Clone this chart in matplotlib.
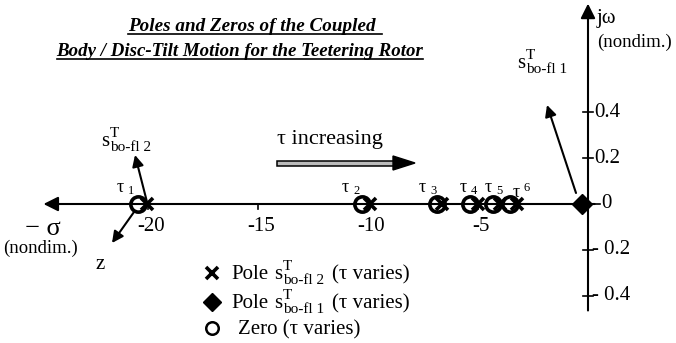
import matplotlib
matplotlib.use('Agg')
from matplotlib import pyplot as plt
from matplotlib.patches import Rectangle, Polygon
import numpy as np

# root locations (nondimensional real part), one per tau value
zeros_sigma = [-20.45, -10.27, -6.86, -5.36, -4.32, -3.55]
pole2_sigma = [-20.05, -9.90, -6.64, -5.00, -4.00, -3.23]
pole1_sigma = [-0.27]
tau_names = ['1', '2', '3', '4', '5', '6']

xticks = [-20, -15, -10, -5]
yticks = [0.4, 0.2, 0.0, -0.2, -0.4]
ytick_labels = ['0.4', '0.2', '0', '- 0.2', '- 0.4']

W, H = 676, 343
serif = 'Liberation Serif'
plt.rcParams['font.family'] = serif

fig = plt.figure(figsize=(W / 100, H / 100), dpi=100)
ax = fig.add_axes([0, 0, 1, 1])
# 22 px per sigma unit, 229 px per j-omega unit, origin at (588, 204)
ax.set_xlim(-588 / 22, (W - 588) / 22)
ax.set_ylim(-(H - 204) / 229, 204 / 229)
ax.axis('off')


def fpos(x, y):
    return x / W, 1 - y / H


def ftext(x, y, s, **kw):
    kw.setdefault('family', serif)
    return fig.text(x / W, 1 - y / H, s, **kw)


def slabel(x, y, sub, size=15, subsize=11):
    # s with superscript T and subscript text
    ftext(x, y, 's', fontsize=size, ha='left', va='baseline')
    ftext(x + 9, y - 9, 'T', fontsize=subsize, ha='left', va='baseline')
    ftext(x + 9, y + 5, sub, fontsize=subsize, ha='left', va='baseline')


# axes with arrow heads
ax.annotate('', xy=(-24.75, 0), xytext=(0.3, 0),
            arrowprops=dict(arrowstyle='-|>', mutation_scale=22, lw=1.5, color='k',
                            shrinkA=0, shrinkB=0))
ax.annotate('', xy=(0, 0.875), xytext=(0, -0.465),
            arrowprops=dict(arrowstyle='-|>', mutation_scale=22, lw=1.5, color='k',
                            shrinkA=0, shrinkB=0))

# x ticks below the real axis
for t in xticks:
    ax.plot([t, t], [0, -0.02], color='k', lw=1.2)
    ax.text(t + 0.15, -0.1, str(t), fontsize=15, ha='center', va='center')

# y ticks crossing the imaginary axis
for t, lab in zip(yticks, ytick_labels):
    if t != 0:
        ax.plot([-0.22, 0.22], [t, t], color='k', lw=1.2)
        ax.text(0.28 if t > 0 else 0.18, t, lab, fontsize=15, ha='left', va='center')
    else:
        ax.text(0.62, t, lab, fontsize=15, ha='left', va='center')
ax.plot([0, 0.55], [0, 0], color='k', lw=1.2)

# roots
ax.plot(zeros_sigma, np.zeros(len(zeros_sigma)), 'o', ms=11, mfc='none', mec='k', mew=2.6)
ax.plot(pole2_sigma, np.zeros(len(pole2_sigma)), 'x', ms=9, mec='k', mew=2.6)
ax.plot(pole1_sigma, np.zeros(len(pole1_sigma)), 'D', ms=10, color='k')

# tau labels
tau_offsets = [(-18, 0), (-17, 0), (-15, 0), (-7, 0), (-5, 0), (6, 5)]
for z, name, (dx, dy) in zip(zeros_sigma, tau_names, tau_offsets):
    x0 = 588 + 22 * z + dx
    y0 = 192 + dy
    ftext(x0, y0, '\u03c4', fontsize=13, ha='center', va='baseline')
    ftext(x0 + 8, y0 + (2 if name != '6' else -6), name, fontsize=9, ha='left', va='baseline')

# root direction arrows
arr = dict(arrowstyle='-|>', mutation_scale=17, lw=1.5, color='k', shrinkA=0, shrinkB=0)
ax.annotate('', xy=((135 - 588) / 22, (204 - 155) / 229),
            xytext=((147 - 588) / 22, (204 - 202) / 229), arrowprops=arr)
ax.annotate('', xy=((112 - 588) / 22, (204 - 243) / 229),
            xytext=((134 - 588) / 22, (204 - 212) / 229), arrowprops=arr)
ax.annotate('', xy=((547 - 588) / 22, (204 - 105) / 229),
            xytext=((576 - 588) / 22, (204 - 193) / 229), arrowprops=arr)

slabel(101, 146, 'bo-fl 2')
slabel(517, 68, 'bo-fl 1')
ftext(100, 269, 'z', fontsize=15, ha='center', va='baseline')

# axis names
ftext(43, 235, '\u2212 \u03c3', fontsize=19, ha='center', va='baseline')
ftext(40, 253, '(nondim.)', fontsize=13.5, ha='center', va='baseline')
ftext(597, 23, 'j\u03c9', fontsize=15, ha='left', va='baseline')
ftext(597, 47, '(nondim.)', fontsize=13.5, ha='left', va='baseline')

# "tau increasing" and its hollow arrow
ftext(277, 144, '\u03c4 increasing', fontsize=16, ha='left', va='baseline')
x0, y0 = fpos(277, 165.5)
x1, y1 = fpos(395, 160.5)
fig.patches.append(Rectangle((x0, y0), x1 - x0, y1 - y0, transform=fig.transFigure,
                             facecolor='#bbbbbb', edgecolor='k', lw=1.1))
fig.patches.append(Polygon([fpos(393, 156), fpos(415, 163), fpos(393, 170)], closed=True,
                           transform=fig.transFigure, facecolor='k', edgecolor='k'))

# title with underlines
t1 = ftext(252, 31, 'Poles and Zeros of the Coupled', fontsize=13.8,
           style='italic', weight='bold', ha='center', va='baseline')
t2 = ftext(240, 56, 'Body / Disc-Tilt Motion for the Teetering Rotor', fontsize=13.6,
           style='italic', weight='bold', ha='center', va='baseline')
renderer = fig.canvas.get_renderer()
for t, yb, extra in ((t1, 34, 6), (t2, 59, 0)):
    bb = t.get_window_extent(renderer)
    fig.add_artist(plt.Line2D([bb.x0 / W, (bb.x1 + extra) / W], [1 - yb / H] * 2,
                              transform=fig.transFigure, color='k', lw=1.2))

# legend
lx = 212
ax.plot([(lx - 588) / 22], [(204 - 273) / 229], 'x', ms=8, mec='k', mew=2.6)
ax.plot([(lx - 588) / 22], [(204 - 302) / 229], 'D', ms=9, color='k')
ax.plot([(lx - 588) / 22], [(204 - 328) / 229], 'o', ms=9, mfc='none', mec='k', mew=1.8)
ftext(231, 279, 'Pole', fontsize=15, ha='left', va='baseline')
slabel(274, 279, 'bo-fl 2')
ftext(332, 279, '(\u03c4 varies)', fontsize=15, ha='left', va='baseline')
ftext(231, 308, 'Pole', fontsize=15, ha='left', va='baseline')
slabel(274, 308, 'bo-fl 1')
ftext(332, 308, '(\u03c4 varies)', fontsize=15, ha='left', va='baseline')
ftext(238, 334, 'Zero (\u03c4 varies)', fontsize=15, ha='left', va='baseline')

fig.savefig('out.png', dpi=100)
